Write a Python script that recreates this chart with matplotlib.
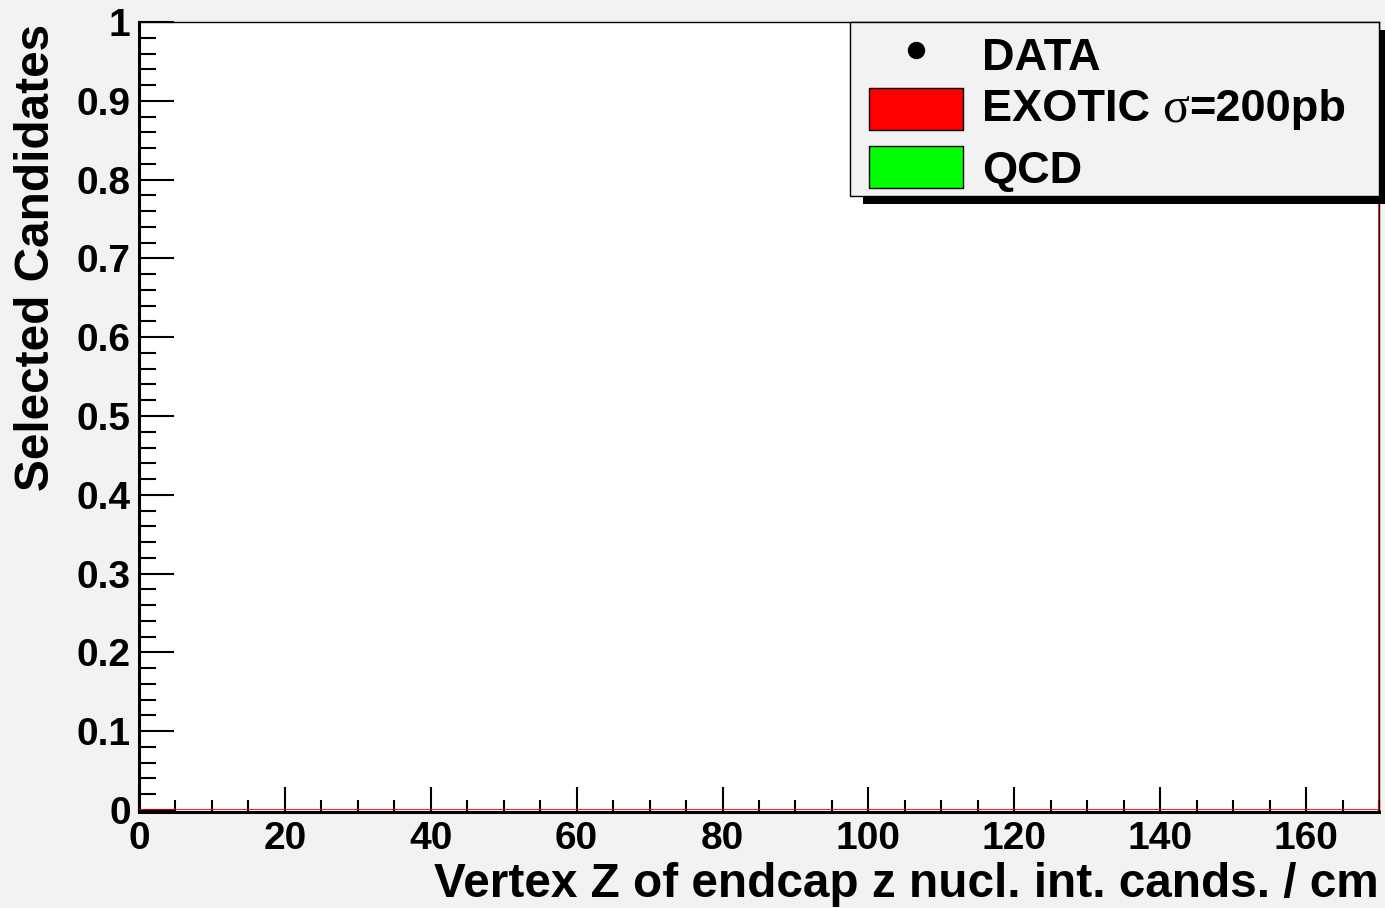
import numpy as np
import matplotlib
matplotlib.use("Agg")
import matplotlib.pyplot as plt
from matplotlib.patches import Rectangle
from matplotlib.lines import Line2D
from matplotlib.ticker import MultipleLocator, FuncFormatter

plt.rcParams["font.family"] = ["Liberation Sans", "DejaVu Sans"]
plt.rcParams["font.weight"] = "bold"
plt.rcParams["axes.labelweight"] = "bold"

# ---- histogram content (vertex z, cm) ----
bin_edges = np.arange(0, 200, 10)
data_counts = np.zeros(len(bin_edges) - 1)
qcd_counts = np.zeros(len(bin_edges) - 1)
exotic_counts = np.array([0, 0, 0, 0, 0, 0, 0, 0, 0, 0,
                          0, 0, 0, 0, 0, 0, 0, 2.0, 0], dtype=float)

# legend rows: pieces of (text, serif?) so the Greek sigma is set in a serif face
legend_rows = [
    [("DATA", False)],
    [("EXOTIC ", False), ("σ", True), ("=200pb", False)],
    [("QCD", False)],
]
exotic_color = "#ff0000"
qcd_color = "#00ff00"

x_label = "Vertex Z of endcap z nucl. int. cands. / cm"
y_label = "Selected Candidates"

W, H = 1385, 908
bg = "#f2f2f2"
fig = plt.figure(figsize=(W / 100, H / 100), dpi=100, facecolor=bg)


def fx(px):
    return px / W


def fy(py):
    return 1 - py / H


ax_l, ax_r, ax_t, ax_b = 139, 1379, 22, 810
ax = fig.add_axes([fx(ax_l), fy(ax_b), (ax_r - ax_l) / W, (ax_b - ax_t) / H])
ax.set_facecolor("white")

# stacked histogram: QCD at the bottom, exotic signal on top
stack_top = qcd_counts + exotic_counts
ax.stairs(stack_top, bin_edges, baseline=0, fill=True, color=exotic_color,
          zorder=2)
ax.stairs(stack_top, bin_edges, baseline=0, color=exotic_color, lw=1.2,
          zorder=3)
ax.stairs(qcd_counts, bin_edges, baseline=0, fill=True, color=qcd_color,
          zorder=3)
nz = data_counts > 0
centers = 0.5 * (bin_edges[1:] + bin_edges[:-1])
ax.plot(centers[nz], data_counts[nz], "o", color="black", ms=8, zorder=4)

ax.set_xlim(0, 170)
ax.set_ylim(0, 1)

ax.xaxis.set_major_locator(MultipleLocator(20))
ax.xaxis.set_minor_locator(MultipleLocator(5))
ax.yaxis.set_major_locator(MultipleLocator(0.1))
ax.yaxis.set_minor_locator(MultipleLocator(0.02))
ax.xaxis.set_major_formatter(FuncFormatter(lambda v, p: f"{v:g}"))
ax.yaxis.set_major_formatter(FuncFormatter(lambda v, p: f"{round(v, 2):g}"))

ax.tick_params(axis="x", which="major", direction="in", length=18, width=1.5,
               labelsize=28, pad=7, top=False)
ax.tick_params(axis="x", which="minor", direction="in", length=8.5, width=1.5,
               top=False)
ax.tick_params(axis="y", which="major", direction="in", length=25.5, width=1.5,
               labelsize=28, pad=6, right=False)
ax.tick_params(axis="y", which="minor", direction="in", length=12.5, width=1.5,
               right=False)

for side in ("left", "bottom"):
    ax.spines[side].set_linewidth(2.2)
ax.spines["bottom"].set_position(("outward", 1.1))
for side in ("top", "right"):
    ax.spines[side].set_linewidth(1.0)

ax.set_xlabel(x_label, fontsize=34.4, fontweight="bold", loc="right")
ax.xaxis.label.set_va("baseline")
ax.xaxis.set_label_coords(1.0, (ax_b - 897) / (ax_b - ax_t))
ax.set_ylabel(y_label, fontsize=34.4, fontweight="bold", loc="top")
ax.yaxis.label.set_va("baseline")
ax.yaxis.set_label_coords((49 - ax_l) / (ax_r - ax_l), (ax_b - 24) / (ax_b - ax_t))

# ---- legend box with drop shadow ----
lx0, lx1, ly0, ly1 = 850, 1379, 22, 196
sh_dx, sh_dy = 13, 8
fig.patches.append(Rectangle((fx(lx0 + sh_dx), fy(ly1 + sh_dy)),
                             (lx1 - lx0) / W, (ly1 - ly0) / H,
                             transform=fig.transFigure, facecolor="black",
                             edgecolor="none", zorder=10))
fig.patches.append(Rectangle((fx(lx0), fy(ly1)), (lx1 - lx0) / W,
                             (ly1 - ly0) / H, transform=fig.transFigure,
                             facecolor=bg, edgecolor="black", lw=1.0,
                             zorder=11))

row_base = [70, 121, 183]
row_mid = [50, 109, 167]
fig.lines.append(Line2D([fx(916)], [fy(row_mid[0])], marker="o", color="black",
                        ms=11.5, transform=fig.transFigure, zorder=12))
for yc, col in zip(row_mid[1:], [exotic_color, qcd_color]):
    fig.patches.append(Rectangle((fx(869), fy(yc + 21)), 94 / W, 42 / H,
                                 transform=fig.transFigure, facecolor=col,
                                 edgecolor="black", lw=1.0, zorder=12))

renderer = fig.canvas.get_renderer()
for yb, pieces in zip(row_base, legend_rows):
    x = 982
    for txt, serif in pieces:
        if serif:
            t = fig.text(fx(x), fy(yb), txt, fontsize=36, fontweight="normal",
                         family="Liberation Serif", ha="left", va="baseline",
                         zorder=13)
        else:
            t = fig.text(fx(x), fy(yb), txt, fontsize=32.5, fontweight="bold",
                         ha="left", va="baseline", zorder=13)
        x = t.get_window_extent(renderer).x1

fig.savefig("out.png", dpi=100, facecolor=bg)
